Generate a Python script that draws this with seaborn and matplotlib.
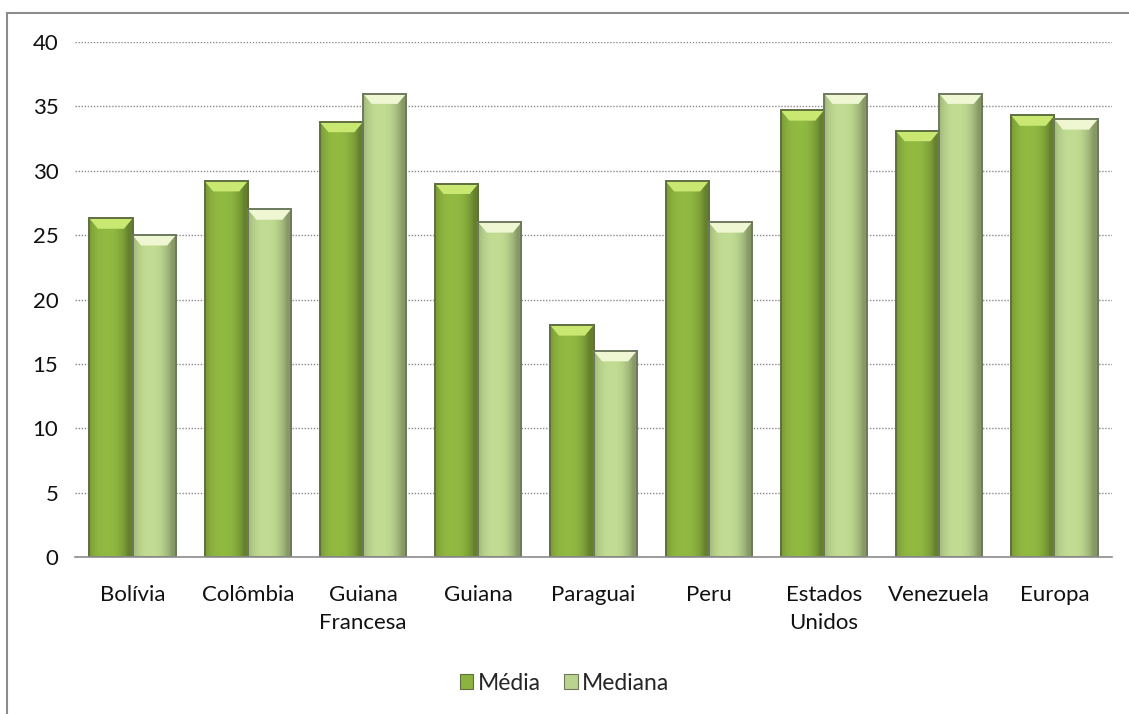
import numpy as np
import pandas as pd
import matplotlib
matplotlib.use("Agg")
import matplotlib.pyplot as plt
import matplotlib.colors as mcolors
from matplotlib.patches import Polygon, Rectangle, Patch
import seaborn as sns

paises = ["Bolívia", "Colômbia", "Guiana\nFrancesa", "Guiana", "Paraguai",
          "Peru", "Estados\nUnidos", "Venezuela", "Europa"]
media = [26.3, 29.2, 33.8, 29.0, 18.0, 29.2, 34.7, 33.1, 34.3]
mediana = [25, 27, 36, 26, 16, 26, 36, 36, 34]
series = ["Média", "Mediana"]
y_ticks = [0, 5, 10, 15, 20, 25, 30, 35, 40]

cores = {"Média": "#8cb33f", "Mediana": "#bad48d"}
topos = {"Média": "#c9e872", "Mediana": "#eef6d2"}
bordas = {"Média": "#5f6f3f", "Mediana": "#6d7a5e"}

df = pd.DataFrame({
    "pais": paises * 2,
    "valor": media + mediana,
    "serie": [series[0]] * len(paises) + [series[1]] * len(paises),
})

sns.set_theme(style="white")
plt.rcParams["font.family"] = ["Lato", "DejaVu Sans"]

fig = plt.figure(figsize=(11.29, 7.14), dpi=100)
ax = fig.add_axes([0.0664, 0.2199, 0.9186, 0.7211])

sns.barplot(data=df, x="pais", y="valor", hue="serie", order=paises,
            hue_order=series, palette=cores, width=0.75, ax=ax,
            legend=False, saturation=1, edgecolor="none", zorder=3)

ax.set_ylim(0, 40)
ax.set_xlim(-0.5, len(paises) - 0.5)
ax.set_yticks(y_ticks)
ax.yaxis.grid(True, linestyle=(0, (1, 1.2)), color="#8a8a8a", linewidth=1.0, zorder=0)
ax.xaxis.grid(False)
for s in ["top", "right", "left"]:
    ax.spines[s].set_visible(False)
ax.spines["bottom"].set_color("#8c8c8c")
ax.spines["bottom"].set_linewidth(1.2)
ax.spines["bottom"].set_zorder(6)
ax.set_xlabel("")
ax.set_ylabel("")
ax.tick_params(axis="y", length=0, pad=12, labelsize=16, labelcolor="#111111")
ax.tick_params(axis="x", length=0, pad=20, labelsize=16, labelcolor="#111111")
for lbl in ax.get_xticklabels():
    lbl.set_linespacing(1.5)

# Shade each bar with a horizontal gradient and a bevelled top
bars = list(ax.patches)
n = len(paises)
for i, bar in enumerate(bars):
    serie = series[i // n]
    base = np.array(mcolors.to_rgb(cores[serie]))
    x0, w, h = bar.get_x(), bar.get_width(), bar.get_height()
    t = np.linspace(0, 1, 80)
    prof = 1.04 - 0.5 * (np.abs(t - 0.4) / 0.6) ** 2.5
    prof = np.clip(prof, 0.72, 1.05)
    grad = np.clip(base[None, :] * prof[:, None], 0, 1)
    img = np.tile(grad[None, :, :], (2, 1, 1))
    ax.imshow(img, extent=[x0, x0 + w, 0, h], aspect="auto",
              zorder=3.5, interpolation="bilinear")
    bar.set_facecolor("none")
    dx = w * 0.2
    dy = 0.8
    top = Polygon([[x0, h], [x0 + w, h], [x0 + w - dx, h - dy], [x0 + dx, h - dy]],
                  closed=True, facecolor=topos[serie], edgecolor="none", zorder=4)
    ax.add_patch(top)
    ax.add_patch(Rectangle((x0, 0), w, h, facecolor="none",
                           edgecolor=bordas[serie], linewidth=1.4, zorder=5))

handles = [Patch(facecolor=cores[s], edgecolor=bordas[s], linewidth=0.8) for s in series]
fig.legend(handles, series, loc="center", bbox_to_anchor=(0.5, 0.043),
           ncol=2, frameon=False, fontsize=16.5, handlelength=0.6,
           handleheight=0.6, handletextpad=0.2, columnspacing=1.0)

# Chart frame along the left and top edges
fig.patches.append(Rectangle((7 / 1129, -0.05), 1.1, 1 - 13 / 714 + 0.05,
                             transform=fig.transFigure, facecolor="none",
                             edgecolor="#8c8c8c", linewidth=1.5, clip_on=False))

fig.savefig("out.png", dpi=100, facecolor="white")
